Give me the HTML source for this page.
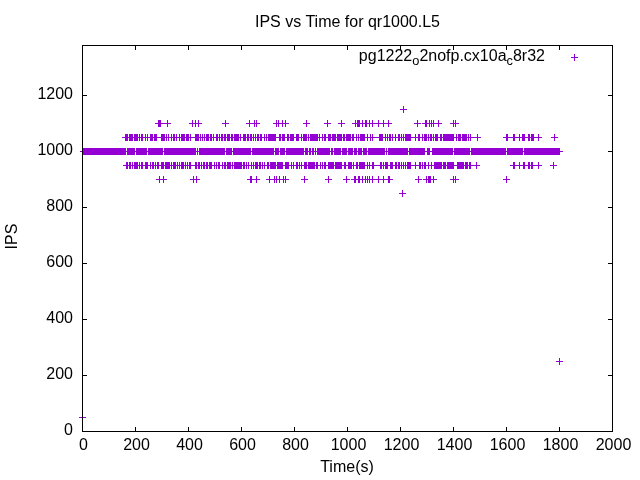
<!DOCTYPE html>
<html><head><meta charset="utf-8"><title>IPS vs Time for qr1000.L5</title>
<style>
html,body{margin:0;padding:0;background:#fff;}
svg{display:block;}
text{font-family:"Liberation Sans",Arial,sans-serif;font-size:16px;fill:#000;}
</style></head>
<body>
<svg width="640" height="480" viewBox="0 0 640 480">
<rect width="640" height="480" fill="#fff"/>
<path d="M135 427h1v4h-1zM135 46h1v4h-1zM188 427h1v4h-1zM188 46h1v4h-1zM241 427h1v4h-1zM241 46h1v4h-1zM294 427h1v4h-1zM294 46h1v4h-1zM347 427h1v4h-1zM347 46h1v4h-1zM400 427h1v4h-1zM400 46h1v4h-1zM453 427h1v4h-1zM453 46h1v4h-1zM506 427h1v4h-1zM506 46h1v4h-1zM559 427h1v4h-1zM559 46h1v4h-1zM83 375h4v1h-4zM608 375h4v1h-4zM83 319h4v1h-4zM608 319h4v1h-4zM83 263h4v1h-4zM608 263h4v1h-4zM83 207h4v1h-4zM608 207h4v1h-4zM83 151h4v1h-4zM608 151h4v1h-4zM83 95h4v1h-4zM608 95h4v1h-4z" fill="#000" shape-rendering="crispEdges"/>
<path d="M571 57h7v1h-7zM574 54h1v7h-1zM400 109h7v1h-7zM403 106h1v7h-1zM155 123h16v1h-16zM189 123h13v1h-13zM222 123h7v1h-7zM246 123h14v1h-14zM273 123h16v1h-16zM303 123h7v1h-7zM324 123h7v1h-7zM338 123h7v1h-7zM352 123h40v1h-40zM414 123h7v1h-7zM422 123h20v1h-20zM450 123h9v1h-9zM158 120h3v7h-3zM167 120h1v7h-1zM192 120h1v7h-1zM195 120h1v7h-1zM198 120h1v7h-1zM225 120h1v7h-1zM249 120h1v7h-1zM254 120h1v7h-1zM256 120h1v7h-1zM276 120h1v7h-1zM278 120h1v7h-1zM282 120h1v7h-1zM285 120h1v7h-1zM306 120h1v7h-1zM327 120h1v7h-1zM341 120h1v7h-1zM355 120h1v7h-1zM357 120h3v7h-3zM362 120h1v7h-1zM365 120h2v7h-2zM369 120h1v7h-1zM372 120h1v7h-1zM378 120h1v7h-1zM383 120h1v7h-1zM388 120h1v7h-1zM417 120h1v7h-1zM425 120h2v7h-2zM429 120h1v7h-1zM431 120h1v7h-1zM433 120h1v7h-1zM438 120h1v7h-1zM453 120h1v7h-1zM455 120h1v7h-1zM122 137h359v1h-359zM503 137h39v1h-39zM551 137h7v1h-7zM125 134h3v7h-3zM129 134h4v7h-4zM134 134h4v7h-4zM139 134h1v7h-1zM141 134h2v7h-2zM145 134h1v7h-1zM147 134h1v7h-1zM150 134h3v7h-3zM154 134h3v7h-3zM161 134h4v7h-4zM166 134h1v7h-1zM168 134h1v7h-1zM171 134h1v7h-1zM173 134h2v7h-2zM176 134h1v7h-1zM179 134h1v7h-1zM181 134h4v7h-4zM186 134h3v7h-3zM190 134h1v7h-1zM195 134h4v7h-4zM200 134h1v7h-1zM202 134h1v7h-1zM204 134h1v7h-1zM206 134h3v7h-3zM210 134h2v7h-2zM213 134h1v7h-1zM216 134h2v7h-2zM219 134h1v7h-1zM221 134h2v7h-2zM224 134h2v7h-2zM227 134h3v7h-3zM231 134h2v7h-2zM234 134h5v7h-5zM240 134h1v7h-1zM243 134h3v7h-3zM247 134h2v7h-2zM250 134h2v7h-2zM253 134h1v7h-1zM255 134h1v7h-1zM257 134h2v7h-2zM260 134h2v7h-2zM264 134h1v7h-1zM266 134h1v7h-1zM268 134h8v7h-8zM279 134h2v7h-2zM282 134h3v7h-3zM287 134h2v7h-2zM290 134h4v7h-4zM296 134h3v7h-3zM301 134h1v7h-1zM303 134h4v7h-4zM308 134h1v7h-1zM310 134h8v7h-8zM319 134h1v7h-1zM322 134h1v7h-1zM324 134h2v7h-2zM328 134h3v7h-3zM332 134h4v7h-4zM337 134h5v7h-5zM343 134h2v7h-2zM346 134h5v7h-5zM352 134h2v7h-2zM356 134h1v7h-1zM358 134h1v7h-1zM360 134h5v7h-5zM367 134h1v7h-1zM370 134h1v7h-1zM372 134h1v7h-1zM379 134h4v7h-4zM385 134h1v7h-1zM387 134h1v7h-1zM389 134h2v7h-2zM392 134h1v7h-1zM395 134h1v7h-1zM398 134h2v7h-2zM401 134h1v7h-1zM403 134h1v7h-1zM405 134h6v7h-6zM415 134h1v7h-1zM418 134h2v7h-2zM422 134h1v7h-1zM424 134h3v7h-3zM428 134h1v7h-1zM430 134h2v7h-2zM433 134h1v7h-1zM435 134h3v7h-3zM440 134h2v7h-2zM443 134h11v7h-11zM456 134h1v7h-1zM458 134h3v7h-3zM462 134h5v7h-5zM468 134h1v7h-1zM470 134h1v7h-1zM477 134h1v7h-1zM506 134h2v7h-2zM513 134h2v7h-2zM519 134h1v7h-1zM522 134h3v7h-3zM528 134h2v7h-2zM531 134h3v7h-3zM538 134h1v7h-1zM554 134h1v7h-1zM80 151h483v1h-483zM83 148h43v7h-43zM127 148h8v7h-8zM136 148h11v7h-11zM148 148h15v7h-15zM164 148h32v7h-32zM197 148h1v7h-1zM199 148h26v7h-26zM226 148h6v7h-6zM233 148h18v7h-18zM252 148h22v7h-22zM275 148h4v7h-4zM280 148h5v7h-5zM286 148h18v7h-18zM305 148h3v7h-3zM309 148h2v7h-2zM312 148h2v7h-2zM315 148h1v7h-1zM317 148h13v7h-13zM331 148h2v7h-2zM334 148h7v7h-7zM342 148h5v7h-5zM348 148h5v7h-5zM354 148h3v7h-3zM358 148h4v7h-4zM363 148h4v7h-4zM368 148h17v7h-17zM386 148h1v7h-1zM388 148h20v7h-20zM409 148h16v7h-16zM427 148h3v7h-3zM432 148h21v7h-21zM454 148h16v7h-16zM471 148h35v7h-35zM507 148h16v7h-16zM524 148h36v7h-36zM123 165h357v1h-357zM510 165h32v1h-32zM550 165h7v1h-7zM126 162h2v7h-2zM129 162h2v7h-2zM132 162h1v7h-1zM134 162h4v7h-4zM139 162h1v7h-1zM141 162h2v7h-2zM145 162h3v7h-3zM150 162h1v7h-1zM152 162h2v7h-2zM155 162h1v7h-1zM157 162h2v7h-2zM161 162h3v7h-3zM165 162h5v7h-5zM171 162h1v7h-1zM173 162h3v7h-3zM177 162h1v7h-1zM179 162h1v7h-1zM181 162h3v7h-3zM185 162h1v7h-1zM187 162h1v7h-1zM189 162h2v7h-2zM195 162h2v7h-2zM198 162h2v7h-2zM201 162h1v7h-1zM203 162h2v7h-2zM206 162h2v7h-2zM209 162h3v7h-3zM214 162h1v7h-1zM216 162h1v7h-1zM218 162h2v7h-2zM222 162h1v7h-1zM224 162h2v7h-2zM227 162h4v7h-4zM232 162h1v7h-1zM234 162h8v7h-8zM243 162h2v7h-2zM246 162h1v7h-1zM248 162h1v7h-1zM251 162h1v7h-1zM253 162h1v7h-1zM255 162h3v7h-3zM259 162h2v7h-2zM262 162h1v7h-1zM264 162h1v7h-1zM267 162h2v7h-2zM270 162h6v7h-6zM277 162h6v7h-6zM285 162h4v7h-4zM291 162h1v7h-1zM293 162h1v7h-1zM296 162h2v7h-2zM299 162h1v7h-1zM301 162h1v7h-1zM304 162h3v7h-3zM308 162h7v7h-7zM316 162h2v7h-2zM320 162h1v7h-1zM322 162h1v7h-1zM324 162h2v7h-2zM328 162h6v7h-6zM335 162h7v7h-7zM344 162h2v7h-2zM348 162h4v7h-4zM353 162h1v7h-1zM356 162h2v7h-2zM359 162h6v7h-6zM367 162h1v7h-1zM369 162h1v7h-1zM372 162h2v7h-2zM380 162h2v7h-2zM383 162h1v7h-1zM385 162h3v7h-3zM390 162h3v7h-3zM395 162h2v7h-2zM398 162h2v7h-2zM401 162h1v7h-1zM403 162h1v7h-1zM405 162h1v7h-1zM407 162h4v7h-4zM415 162h1v7h-1zM419 162h2v7h-2zM422 162h1v7h-1zM424 162h2v7h-2zM428 162h1v7h-1zM431 162h1v7h-1zM434 162h8v7h-8zM443 162h3v7h-3zM447 162h7v7h-7zM457 162h7v7h-7zM465 162h3v7h-3zM469 162h2v7h-2zM476 162h1v7h-1zM513 162h2v7h-2zM519 162h1v7h-1zM523 162h2v7h-2zM528 162h2v7h-2zM531 162h2v7h-2zM538 162h1v7h-1zM553 162h1v7h-1zM156 179h11v1h-11zM190 179h10v1h-10zM247 179h13v1h-13zM266 179h23v1h-23zM301 179h7v1h-7zM325 179h7v1h-7zM343 179h7v1h-7zM351 179h42v1h-42zM415 179h7v1h-7zM423 179h14v1h-14zM450 179h9v1h-9zM503 179h7v1h-7zM159 176h1v7h-1zM163 176h1v7h-1zM193 176h1v7h-1zM196 176h1v7h-1zM250 176h2v7h-2zM256 176h1v7h-1zM269 176h1v7h-1zM274 176h1v7h-1zM276 176h1v7h-1zM279 176h1v7h-1zM283 176h1v7h-1zM285 176h1v7h-1zM304 176h1v7h-1zM328 176h1v7h-1zM346 176h1v7h-1zM354 176h2v7h-2zM358 176h2v7h-2zM362 176h1v7h-1zM365 176h1v7h-1zM367 176h1v7h-1zM369 176h1v7h-1zM372 176h1v7h-1zM378 176h1v7h-1zM383 176h1v7h-1zM388 176h2v7h-2zM418 176h1v7h-1zM426 176h1v7h-1zM428 176h3v7h-3zM433 176h1v7h-1zM453 176h1v7h-1zM455 176h1v7h-1zM506 176h1v7h-1zM399 193h7v1h-7zM402 190h1v7h-1zM556 361h7v1h-7zM559 358h1v7h-1zM79 417h7v1h-7zM82 414h1v7h-1z" fill="#9400d3" shape-rendering="crispEdges"/>
<path d="M82 45h531v387h-531z M83 46v385h529v-385z" fill="#000" fill-rule="evenodd" shape-rendering="crispEdges"/>
<text x="83.5" y="450" text-anchor="middle">0</text>
<text x="136.5" y="450" text-anchor="middle">200</text>
<text x="189.5" y="450" text-anchor="middle">400</text>
<text x="242.5" y="450" text-anchor="middle">600</text>
<text x="295.5" y="450" text-anchor="middle">800</text>
<text x="348.5" y="450" text-anchor="middle">1000</text>
<text x="401.5" y="450" text-anchor="middle">1200</text>
<text x="454.5" y="450" text-anchor="middle">1400</text>
<text x="507.5" y="450" text-anchor="middle">1600</text>
<text x="560.5" y="450" text-anchor="middle">1800</text>
<text x="613.5" y="450" text-anchor="middle">2000</text>
<text x="73" y="435" text-anchor="end">0</text>
<text x="73" y="379" text-anchor="end">200</text>
<text x="73" y="323" text-anchor="end">400</text>
<text x="73" y="267" text-anchor="end">600</text>
<text x="73" y="211" text-anchor="end">800</text>
<text x="73" y="155" text-anchor="end">1000</text>
<text x="73" y="99" text-anchor="end">1200</text>
<text x="347.5" y="27" text-anchor="middle">IPS vs Time for qr1000.L5</text>
<text x="347" y="472" text-anchor="middle">Time(s)</text>
<text transform="translate(17.1,236.6) rotate(-90)" text-anchor="middle">IPS</text>
<text x="545" y="61" text-anchor="end">pg1222<tspan dy="4" font-size="12.8">o</tspan><tspan dy="-4">2nofp.cx10a</tspan><tspan dy="4" font-size="12.8">c</tspan><tspan dy="-4">8r32</tspan></text>
</svg>
</body></html>
